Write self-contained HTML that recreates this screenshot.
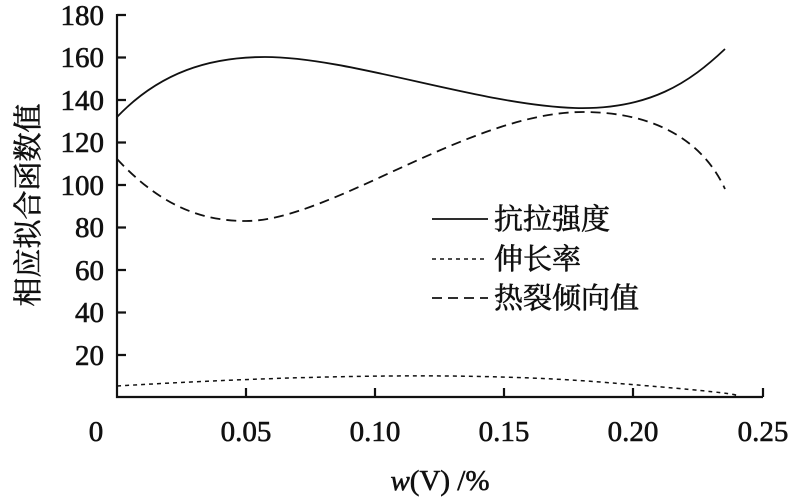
<!DOCTYPE html>
<html><head><meta charset="utf-8"><style>body{margin:0;background:#fff}svg{display:block}</style></head><body>
<svg width="796" height="500" xmlns="http://www.w3.org/2000/svg" font-family="'Liberation Serif','Noto Serif CJK SC',serif" fill="#111">
<g stroke="#111" stroke-width="2.2" fill="none">
<path d="M117,14 V397 H763"/>
<path d="M117,15h9M117,57.5h9M117,100h9M117,142.5h9M117,185h9M117,227.5h9M117,270h9M117,312.5h9M117,355h9"/>
<path d="M246,397v-9M375,397v-9M504,397v-9M633,397v-9M763,397v-9"/>
</g>
<g fill="none" stroke="#111" stroke-width="1.8">
<path d="M117,117 C160,72 210,57 265,57 C350,57 480,105 575,108 C650,110 690,82 725,49"/>
<path d="M117,159 C160,205 200,221 246,221 C330,221 470,112 583,112 C660,112 705,145 725,189" stroke-dasharray="10,6"/>
<path d="M117,386 Q 420,368 600,382 T725,397" stroke-dasharray="4,4" stroke-width="1.5"/>
<path d="M432,219h56"/>
<path d="M432,259h56" stroke-dasharray="4,4" stroke-width="1.5"/>
<path d="M432,298h56" stroke-dasharray="10,6"/>
</g>
<g stroke="#111" stroke-width="0.6">
<g font-size="29" text-anchor="end">
<text x="104" y="25">180</text><text x="104" y="67">160</text><text x="104" y="110">140</text><text x="104" y="152">120</text><text x="104" y="195">100</text><text x="104" y="237">80</text><text x="104" y="280">60</text><text x="104" y="322">40</text><text x="104" y="365">20</text>
</g>
<g font-size="29" text-anchor="middle">
<text x="96" y="441">0</text><text x="246" y="441">0.05</text><text x="375" y="441">0.10</text><text x="504" y="441">0.15</text><text x="633" y="441">0.20</text><text x="763" y="441">0.25</text>
<text x="440" y="490"><tspan font-style="italic">w</tspan>(V) /%</text>
</g>
<g font-size="29">
<text x="494" y="229">抗拉强度</text>
<text x="494" y="269">伸长率</text>
<text x="494" y="308">热裂倾向值</text>
</g>
<text transform="translate(38,205) rotate(-90)" font-size="29" text-anchor="middle">相应拟合函数值</text>
</g>
</svg>
</body></html>
